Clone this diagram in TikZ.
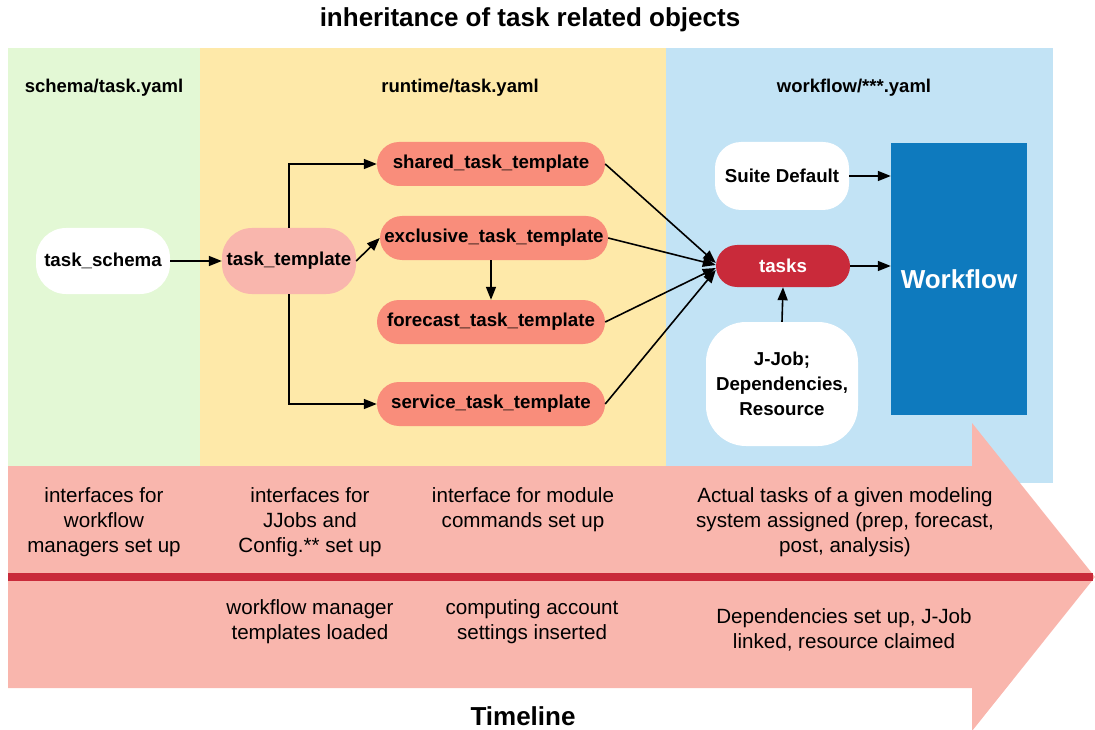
\documentclass[tikz,border=0pt]{standalone}
\usepackage{fontspec}
\setmainfont{Liberation Sans}
\usetikzlibrary{arrows.meta}

\definecolor{panelgreen}{HTML}{E3F8D5}
\definecolor{panelyellow}{HTML}{FEE9A9}
\definecolor{panelblue}{HTML}{C2E3F5}
\definecolor{bandpink}{HTML}{F9B6AD}
\definecolor{salmon}{HTML}{F98D7B}
\definecolor{taskred}{HTML}{C92A3A}
\definecolor{wfblue}{HTML}{0E7ABE}

\tikzset{
  nodefont/.style={font=\fontsize{18.7}{25}\selectfont\bfseries},
  whitebox/.style={fill=white, rounded corners=30pt, minimum width=134pt,
    minimum height=66pt, inner sep=0pt, align=center, nodefont},
  tmpl/.style={fill=salmon, rounded corners=22pt, minimum width=228pt,
    minimum height=44pt, inner sep=0pt, nodefont},
  conn/.style={line width=1.6pt, -{Triangle[length=13pt,width=10pt]}},
  bandtext/.style={font=\fontsize{20.6}{25}\selectfont, align=center, inner sep=0pt},
  heading/.style={font=\fontsize{18.5}{22}\selectfont\bfseries, inner sep=0pt},
  bigtitle/.style={font=\fontsize{26}{30}\selectfont\bfseries, inner sep=0pt},
}

\begin{document}
\begin{tikzpicture}[x=1pt, y=-1pt]
\useasboundingbox (0,0) rectangle (1095,730);

% file panels
\fill[panelgreen]  (8,48)   rectangle (200,466);
\fill[panelyellow] (200,48) rectangle (666,466);
\fill[panelblue]   (666,48) rectangle (1053,483);

% timeline arrow
\fill[bandpink] (8,466) -- (972,466) -- (972,423) -- (1095,577)
  -- (972,731) -- (972,688) -- (8,688) -- cycle;
\draw[taskred, line width=8pt] (8,577) -- (1093,577);

% titles and panel headings
\node[bigtitle] (title) at (530,20) {inheritance of task related objects};
\node[bigtitle] (timeline) at (523,716) {Timeline};
\node[heading] (h1) at (104,88) {schema/task.yaml};
\node[heading] (h2) at (460,88) {runtime/task.yaml};
\node[heading] (h3) at (854,88) {workflow/***.yaml};

% objects
\node[whitebox] (schema) at (103,261) {task\_schema};
\node[whitebox, fill=bandpink] (template) at (289,261) {task\_template};
\node[tmpl] (shared)    at (491,164) {shared\_task\_template};
\node[tmpl] (exclusive) at (494,238) {exclusive\_task\_template};
\node[tmpl] (forecast)  at (491,322) {forecast\_task\_template};
\node[tmpl] (service)   at (491,404) {service\_task\_template};

\node[tmpl, fill=taskred, text=white, minimum width=134pt, minimum height=42pt,
  rounded corners=21pt] (tasks) at (783,266) {tasks};
\node[whitebox, minimum height=68pt, rounded corners=26pt] (suite) at (782,176) {Suite Default};
\node[whitebox, minimum width=152pt, minimum height=124pt, rounded corners=40pt]
  (jjob) at (782,384) {J-Job;\\Dependencies,\\Resource};
\node[fill=wfblue, minimum width=136pt, minimum height=272pt, inner sep=0pt,
  text=white, font=\fontsize{26}{30}\selectfont\bfseries] (workflow) at (959,279) {Workflow};

% inheritance connectors
\draw[conn] (schema) -- (template);
\draw[conn] (template.north) |- (shared.west);
\draw[conn] (template.east) -- (exclusive.west);
\draw[conn] (template.south) |- (service.west);
\draw[conn] (exclusive.south -| forecast.north) -- (forecast.north);
\draw[conn] (shared.east) -- ([yshift=3pt]tasks.west);
\draw[conn] (exclusive.east) -- ([yshift=1pt]tasks.west);
\draw[conn] (forecast.east) -- ([yshift=-2pt]tasks.west);
\draw[conn] (service.east) -- ([yshift=-4pt]tasks.west);
\draw[conn] (suite.east) -- (suite.east -| workflow.west);
\draw[conn] (tasks.east) -- (tasks.east -| workflow.west);
\draw[conn] (jjob.north) -- (tasks.south);

% timeline notes, above the line
\node[bandtext] (n1) at (104,522) {interfaces for\\workflow\\managers set up};
\node[bandtext] (n2) at (310,522) {interfaces for\\JJobs and\\Config.** set up};
\node[bandtext] (n3) at (523,509.5) {interface for module\\commands set up};
\node[bandtext] (n4) at (845,522) {Actual tasks of a given modeling\\system assigned (prep, forecast,\\post, analysis)};
% timeline notes, below the line
\node[bandtext] (n5) at (310,621.5) {workflow manager\\templates loaded};
\node[bandtext] (n6) at (532,621.5) {computing account\\settings inserted};
\node[bandtext] (n7) at (844,630) {Dependencies set up, J-Job\\linked, resource claimed};
\end{tikzpicture}
\end{document}
